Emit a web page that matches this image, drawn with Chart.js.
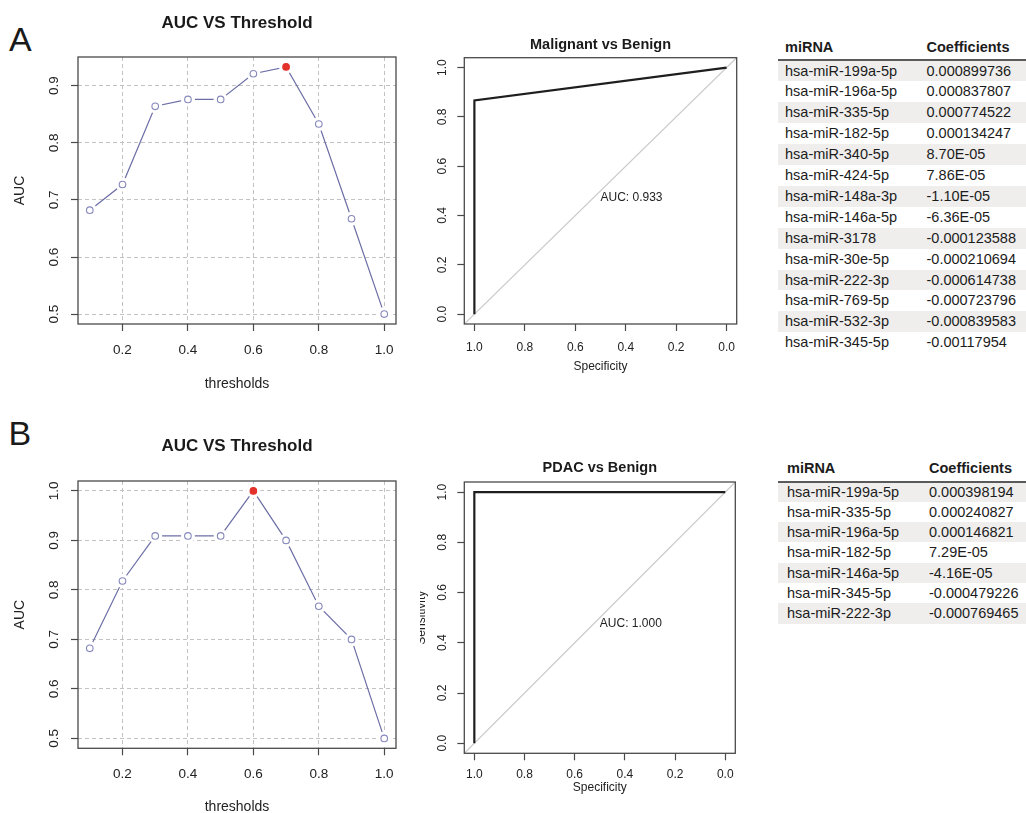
<!DOCTYPE html>
<html>
<head>
<meta charset="utf-8">
<script src="https://cdn.jsdelivr.net/npm/chart.js@4/dist/chart.umd.min.js"></script>
<style>
  html, body { margin: 0; padding: 0; background: #fff; }
  body { width: 1026px; height: 813px; overflow: hidden; position: relative; font-family: "Liberation Sans", Arial, sans-serif; color: #1c1c1c; }
  canvas { position: absolute; }
  .letter { position: absolute; font-size: 34px; line-height: 34px; font-weight: normal; color: #1a1a1a; }
  .cell { position: absolute; font-size: 14.5px; white-space: nowrap; }
  .row { position: absolute; left: 778px; width: 248px; }
</style>
</head>
<body>
<div class="letter" style="left:9px; top:21.5px;">A</div>
<div class="letter" style="left:8.5px; top:416px;">B</div>

<canvas id="aucA" width="474" height="400" style="left:0px; top:0px;"></canvas>
<canvas id="rocA" width="340" height="400" style="left:420px; top:0px;"></canvas>
<canvas id="aucB" width="474" height="420" style="left:0px; top:400px;"></canvas>
<div style="position:absolute; left:420px; top:400px; width:340px; height:413px; overflow:hidden;">
  <canvas id="rocB" width="350" height="413" style="left:-10px; top:0px;"></canvas>
</div>
<div id="tables"></div>

<script>
// ---------------- data ----------------
const thresholds = [0.1, 0.2, 0.3, 0.4, 0.5, 0.6, 0.7, 0.8, 0.9, 1.0];
const aucMalignant = [0.682, 0.727, 0.864, 0.876, 0.876, 0.921, 0.933, 0.833, 0.667, 0.500];
const aucPDAC = [0.682, 0.818, 0.909, 0.909, 0.909, 1.000, 0.900, 0.767, 0.700, 0.500];

const thresholdTicks = [0.2, 0.4, 0.6, 0.8, 1.0];
const aucTicksA = [0.5, 0.6, 0.7, 0.8, 0.9];
const aucTicksB = [0.5, 0.6, 0.7, 0.8, 0.9, 1.0];
const rocTicks = [0.0, 0.2, 0.4, 0.6, 0.8, 1.0];

const rocMalignantSpec = [1.0, 1.0, 0.0];
const rocMalignantSens = [0.0, 0.867, 1.0];
const rocPDACSpec = [1.0, 1.0, 0.0];
const rocPDACSens = [0.0, 1.0, 1.0];
const aucTextMalignant = 'AUC: 0.933';
const aucTextPDAC = 'AUC: 1.000';

const mirnaA = ['hsa-miR-199a-5p','hsa-miR-196a-5p','hsa-miR-335-5p','hsa-miR-182-5p','hsa-miR-340-5p','hsa-miR-424-5p','hsa-miR-148a-3p','hsa-miR-146a-5p','hsa-miR-3178','hsa-miR-30e-5p','hsa-miR-222-3p','hsa-miR-769-5p','hsa-miR-532-3p','hsa-miR-345-5p'];
const coefA = ['0.000899736','0.000837807','0.000774522','0.000134247','8.70E-05','7.86E-05','-1.10E-05','-6.36E-05','-0.000123588','-0.000210694','-0.000614738','-0.000723796','-0.000839583','-0.00117954'];
const mirnaB = ['hsa-miR-199a-5p','hsa-miR-335-5p','hsa-miR-196a-5p','hsa-miR-182-5p','hsa-miR-146a-5p','hsa-miR-345-5p','hsa-miR-222-3p'];
const coefB = ['0.000398194','0.000240827','0.000146821','7.29E-05','-4.16E-05','-0.000479226','-0.000769465'];

// ---------------- helpers ----------------
Chart.defaults.font.family = "'Liberation Sans', Arial, Helvetica, sans-serif";
Chart.defaults.color = '#222';

function rRange(vals) { // R's default 4% axis extension
  const mn = Math.min(...vals), mx = Math.max(...vals), d = (mx - mn) * 0.04;
  return [mn - d, mx + d];
}
const fmt1 = v => Number(v).toFixed(1);

const boxPlugin = {
  id: 'rbox',
  afterDraw(chart) {
    const a = chart.chartArea, c = chart.ctx;
    c.save(); c.strokeStyle = '#4a4a4a'; c.lineWidth = 1.3;
    c.strokeRect(a.left, a.top, a.right - a.left, a.bottom - a.top);
    c.restore();
  }
};
const aucTextPlugin = {
  id: 'aucText',
  afterDatasetsDraw(chart, args, opts) {
    if (!opts || !opts.text) return;
    const c = chart.ctx;
    const px = chart.scales.x.getPixelForValue(opts.x);
    const py = chart.scales.y.getPixelForValue(opts.y);
    c.save(); c.fillStyle = '#222'; c.font = "12px 'Liberation Sans', Arial, sans-serif";
    c.textAlign = 'left'; c.textBaseline = 'top';
    c.fillText(opts.text, px, py + 0.5);
    c.restore();
  }
};

function aucChart(id, values, yTicks, L) {
  const [xMin, xMax] = rRange(thresholds);
  const [yMin, yMax] = rRange(values);
  const best = Math.max(...values);
  const pts = thresholds.map((t, i) => ({x: t, y: values[i]}));
  const isBest = ctx => ctx.raw && ctx.raw.y === best;
  const gridCommon = { color: '#c2c2c2', lineWidth: 1, tickLength: 7, tickColor: '#4a4a4a', tickWidth: 1.2, tickBorderDash: [] };
  return new Chart(document.getElementById(id), {
    type: 'scatter',
    data: { datasets: [
      // connecting line (R type = "b")
      { data: pts, showLine: true, borderColor: '#6c6ea6', borderWidth: 1.2, pointRadius: 0, order: 2 },
      // white halo that opens the gap between line and symbol
      { data: pts, showLine: false, pointRadius: 7, pointBorderWidth: 0, pointBorderColor: '#ffffff', pointBackgroundColor: '#ffffff', order: 1 },
      // symbols
      { data: pts, showLine: false, pointRadius: 3.3, pointBorderWidth: 1.1,
        pointBorderColor: ctx => isBest(ctx) ? '#e2322b' : '#8588bb',
        pointBackgroundColor: ctx => isBest(ctx) ? '#e2322b' : '#ffffff', order: 0 }
    ]},
    options: {
      responsive: false, animation: false, devicePixelRatio: 1,
      layout: { padding: { left: 0, right: 78, top: 0, bottom: 0 } },
      plugins: {
        legend: { display: false }, tooltip: { enabled: false },
        title: { display: true, text: 'AUC VS Threshold', fullSize: false, color: '#1a1a1a',
                 font: { size: 17, weight: 'bold' }, padding: { top: L.tTop, bottom: L.tBot } }
      },
      scales: {
        x: {
          type: 'linear', min: xMin, max: xMax, z: 1,
          afterBuildTicks: s => { s.ticks = thresholdTicks.map(v => ({value: v})); },
          afterFit: s => { s.height = L.xH; },
          ticks: { callback: fmt1, font: { size: 13.5 }, padding: L.xPad, autoSkip: false, maxRotation: 0, minRotation: 0, color: '#222' },
          grid: gridCommon, border: { display: false, dash: [4, 3] },
          title: { display: true, text: 'thresholds', font: { size: 14 }, color: '#222', padding: { top: 0, bottom: L.xtPad } }
        },
        y: {
          type: 'linear', min: yMin, max: yMax, z: 1,
          afterBuildTicks: s => { s.ticks = yTicks.map(v => ({value: v})); },
          afterFit: s => { s.width = 78; },
          ticks: { callback: fmt1, font: { size: 13.5 }, padding: 7.6, autoSkip: false, minRotation: 90, maxRotation: 90, crossAlign: 'center', color: '#222' },
          grid: gridCommon, border: { display: false, dash: [4, 3] },
          title: { display: true, text: 'AUC', font: { size: 14 }, color: '#222', padding: { top: 11.6, bottom: 0 } }
        }
      }
    },
    plugins: [boxPlugin]
  });
}

function rocChart(id, title, spec, sens, aucText, L) {
  const rMin = -0.04, rMax = 1.04;
  const diag = [{x: rMin, y: 1 - rMin}, {x: rMax, y: 1 - rMax}];
  const curve = spec.map((s, i) => ({x: s, y: sens[i]}));
  const gridCommon = { drawOnChartArea: false, tickLength: 7, tickColor: '#4a4a4a', tickWidth: 1.2, color: '#4a4a4a' };
  return new Chart(document.getElementById(id), {
    type: 'scatter',
    data: { datasets: [
      { data: curve, showLine: true, borderColor: '#1e1e1e', borderWidth: 2.2, pointRadius: 0, order: 1 },
      { data: diag, showLine: true, borderColor: '#cacaca', borderWidth: 1.2, pointRadius: 0, order: 2 }
    ]},
    options: {
      responsive: false, animation: false, devicePixelRatio: 1,
      layout: { padding: { left: 0, right: L.padR, top: 0, bottom: 0 } },
      plugins: {
        legend: { display: false }, tooltip: { enabled: false },
        title: { display: true, text: title, fullSize: false, color: '#1a1a1a',
                 font: { size: 14.5, weight: 'bold' }, padding: { top: L.tTop, bottom: L.tBot } },
        aucText: { text: aucText, x: 0.5, y: 0.5 }
      },
      scales: {
        x: {
          type: 'linear', reverse: true, min: rMin, max: rMax,
          afterBuildTicks: s => { s.ticks = rocTicks.map(v => ({value: v})); },
          afterFit: s => { s.height = L.xH; },
          ticks: { callback: fmt1, font: { size: 12 }, padding: L.xPad, autoSkip: false, maxRotation: 0, minRotation: 0, color: '#222' },
          grid: gridCommon, border: { display: false },
          title: { display: true, text: 'Specificity', font: { size: 12 }, color: '#222', padding: { top: 0, bottom: L.xtPad } }
        },
        y: {
          type: 'linear', min: rMin, max: rMax,
          afterBuildTicks: s => { s.ticks = rocTicks.map(v => ({value: v})); },
          afterFit: s => { s.width = L.yW; },
          ticks: { callback: fmt1, font: { size: 12 }, padding: 6.5, autoSkip: false, minRotation: 90, maxRotation: 90, crossAlign: 'center', color: '#222' },
          grid: gridCommon, border: { display: false },
          title: { display: L.yTitle, text: 'Sensitivity', font: { size: 12 }, color: '#222', padding: { top: 4, bottom: 0 } }
        }
      }
    },
    plugins: [boxPlugin, aucTextPlugin]
  });
}

aucChart('aucA', aucMalignant, aucTicksA, { tTop: 12.8, tBot: 23.8, xH: 76, xPad: 11.6, xtPad: 7.6 });
aucChart('aucB', aucPDAC, aucTicksB, { tTop: 36.5, tBot: 24.1, xH: 71.7, xPad: 10.6, xtPad: 4.6 });
rocChart('rocA', 'Malignant vs Benign', rocMalignantSpec, rocMalignantSens, aucTextMalignant,
         { padR: 23.3, tTop: 36.3, tBot: 4, xH: 76, xPad: 9.1, xtPad: 26.1, yW: 44.3, yTitle: false });
rocChart('rocB', 'PDAC vs Benign', rocPDACSpec, rocPDACSens, aucTextPDAC,
         { padR: 24.7, tTop: 59.3, tBot: 5.3, xH: 59.7, xPad: 7.5, xtPad: 17.8, yW: 54.3, yTitle: true });

// ---------------- tables ----------------
function buildTable(names, coefs, T) {
  const host = document.getElementById('tables');
  const add = (txt, style, cls) => { const d = document.createElement('div'); d.className = cls; d.style.cssText = style; d.textContent = txt; host.appendChild(d); return d; };
  add('miRNA', `left:${T.c1}px; top:${T.hTop}px; line-height:20px; font-weight:bold;`, 'cell');
  add('Coefficients', `left:${T.c2}px; top:${T.hTop}px; line-height:20px; font-weight:bold;`, 'cell');
  names.forEach((n, i) => {
    const top = T.rTop + i * T.rH;
    if (i % 2 === 0) add('', `top:${top}px; height:${T.rH}px; background:#efeeec;`, 'row');
    add(n, `left:${T.c1}px; top:${top}px; line-height:${T.rH}px;`, 'cell');
    add(coefs[i], `left:${T.c2}px; top:${top}px; line-height:${T.rH}px;`, 'cell');
  });
  add('', `top:${T.lineTop}px; height:2px; background:#5a5a5a;`, 'row');
}
buildTable(mirnaA, coefA, { c1: 785, c2: 926.5, hTop: 36.7, lineTop: 58.5, rTop: 60.5, rH: 20.9 });
buildTable(mirnaB, coefB, { c1: 787, c2: 929, hTop: 458.3, lineTop: 480.5, rTop: 481.5, rH: 20.3 });
</script>
</body>
</html>
